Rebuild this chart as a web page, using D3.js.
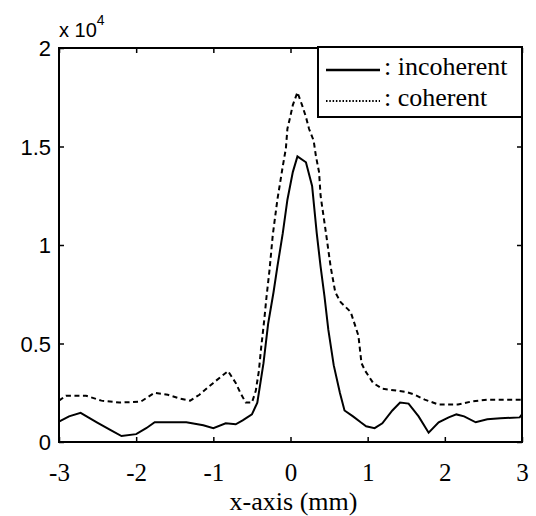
<!DOCTYPE html>
<html>
<head>
<meta charset="utf-8">
<script src="https://cdn.jsdelivr.net/npm/d3@7"></script>
<style>
  body { margin: 0; background: #fff; }
  svg { display: block; }
</style>
</head>
<body>
<svg id="chart"></svg>
<script>
// x positions (mm) and intensities
const xIncoherent = [-3.0, -2.87, -2.72, -2.51, -2.33, -2.19, -2.0, -1.87, -1.76, -1.56, -1.35, -1.13, -1.0, -0.84, -0.71, -0.62, -0.50, -0.43, -0.35, -0.29, -0.22, -0.17, -0.10, -0.04, 0.03, 0.09, 0.20, 0.28, 0.34, 0.39, 0.44, 0.49, 0.56, 0.64, 0.70, 0.81, 0.91, 0.98, 1.09, 1.19, 1.32, 1.42, 1.53, 1.66, 1.79, 1.92, 2.05, 2.15, 2.25, 2.40, 2.55, 2.72, 2.97, 3.0];
const incoherent = [1030, 1300, 1480, 1000, 600, 300, 400, 700, 1000, 1000, 1000, 850, 700, 950, 900, 1100, 1400, 2000, 4000, 6000, 7600, 8900, 10600, 12300, 13700, 14500, 14200, 13000, 10600, 8900, 7400, 5700, 3900, 2500, 1600, 1300, 1000, 800, 700, 950, 1600, 2000, 1950, 1300, 470, 1000, 1250, 1400, 1300, 1000, 1150, 1200, 1250, 1400];

const xCoherent = [-3.0, -2.91, -2.65, -2.45, -2.22, -1.94, -1.76, -1.59, -1.43, -1.30, -1.18, -1.0, -0.81, -0.71, -0.65, -0.58, -0.50, -0.45, -0.41, -0.38, -0.34, -0.31, -0.27, -0.23, -0.17, -0.10, -0.06, -0.04, -0.01, 0.03, 0.09, 0.15, 0.20, 0.24, 0.30, 0.33, 0.37, 0.39, 0.46, 0.52, 0.58, 0.65, 0.78, 0.88, 0.92, 0.97, 1.07, 1.19, 1.49, 1.61, 1.74, 1.92, 2.17, 2.34, 2.55, 3.0];
const coherent = [2100, 2350, 2350, 2100, 2000, 2050, 2500, 2400, 2200, 2100, 2400, 3000, 3600, 3000, 2500, 2000, 2000, 2600, 3600, 4800, 6200, 7400, 8800, 10500, 12300, 14000, 14900, 15900, 16400, 17100, 17750, 17100, 16500, 15900, 15300, 14500, 13700, 12500, 10600, 8900, 7600, 7100, 6600, 5400, 4000, 3600, 3000, 2700, 2550, 2400, 2150, 1900, 1900, 2050, 2150, 2150];

const xTicks = [-3, -2, -1, 0, 1, 2, 3];
const yTicks = [0, 5000, 10000, 15000, 20000];
const seriesNames = [': incoherent', ': coherent'];

const width = 536, height = 516;
const margin = {top: 48, right: 14, bottom: 74, left: 59};
const innerW = width - margin.left - margin.right;
const innerH = height - margin.top - margin.bottom;

const svg = d3.select('#chart')
  .attr('width', width)
  .attr('height', height);

svg.append('rect').attr('width', width).attr('height', height).attr('fill', '#fff');

const g = svg.append('g')
  .attr('transform', `translate(${margin.left},${margin.top})`);

const x = d3.scaleLinear().domain([-3, 3]).range([0, innerW]);
const y = d3.scaleLinear().domain([0, 20000]).range([innerH, 0]);

const serif = '"Liberation Serif", "Times New Roman", serif';
const sans = '"Liberation Sans", Arial, sans-serif';

// curves
let line = d3.line()
  .x((d) => x(d[0]))
  .y((d) => y(d[1]));

g.append('path')
  .datum(xCoherent.map((v, i) => [v, coherent[i]]))
  .attr('d', line)
  .attr('fill', 'none')
  .attr('stroke', '#000')
  .attr('stroke-width', 2)
  .attr('stroke-dasharray', '5,3.5');

g.append('path')
  .datum(xIncoherent.map((v, i) => [v, incoherent[i]]))
  .attr('d', line)
  .attr('fill', 'none')
  .attr('stroke', '#000')
  .attr('stroke-width', 2);

// axes, ticks pointing inward like matlab
let bottom = g.append('g')
  .attr('transform', `translate(0,${innerH})`)
  .call(d3.axisBottom(x).tickValues(xTicks).tickSize(-5).tickSizeOuter(0).tickFormat(d3.format('d')))
  .attr('font-family', serif)
  .attr('font-size', 25);
bottom.selectAll('text')
  .attr('dy', null)
  .attr('y', 39)
  .style('font-family', serif)
  .style('font-size', '25px')
  .text((d) => d < 0 ? '-' + Math.abs(d) : d);

let left = g.append('g')
  .call(d3.axisLeft(y).tickValues(yTicks).tickSize(-5).tickSizeOuter(0).tickFormat((d) => d / 10000))
  .attr('font-family', sans)
  .attr('font-size', 22);
left.selectAll('text')
  .attr('x', -8)
  .attr('dy', '0.36em')
  .style('font-family', sans)
  .style('font-size', '22px');

g.append('g')
  .call(d3.axisTop(x).tickValues(xTicks).tickSize(-5).tickSizeOuter(0).tickFormat(''));
g.append('g')
  .attr('transform', `translate(${innerW},0)`)
  .call(d3.axisRight(y).tickValues(yTicks).tickSize(-5).tickSizeOuter(0).tickFormat(''));

g.selectAll('.domain').remove();
g.selectAll('.tick line').attr('stroke', '#000').attr('stroke-width', 1.5);

g.append('rect')
  .attr('width', innerW)
  .attr('height', innerH)
  .attr('fill', 'none')
  .attr('stroke', '#000')
  .attr('stroke-width', 2);

// exponent label
let expo = svg.append('text')
  .attr('x', 59)
  .attr('y', 37)
  .style('font-family', sans)
  .style('font-size', '20px');
expo.append('tspan').text('x 10');
expo.append('tspan').attr('dy', -12).style('font-size', '14px').text('4');

// x label
svg.append('text')
  .attr('x', margin.left + x(0) + 3)
  .attr('y', 510)
  .attr('text-anchor', 'middle')
  .style('font-family', serif)
  .style('font-size', '26px')
  .text('x-axis (mm)');

// legend
let legend = svg.append('g').attr('transform', 'translate(318,47)');
legend.append('rect')
  .attr('width', 204)
  .attr('height', 70)
  .attr('fill', '#fff')
  .attr('stroke', '#000')
  .attr('stroke-width', 2);

let items = legend.selectAll('.legend')
  .data(seriesNames)
  .enter()
  .append('g')
  .attr('class', 'legend')
  .attr('transform', (d, i) => `translate(0,${23 + i * 31})`);
items.append('line')
  .attr('x1', 8)
  .attr('x2', 62)
  .attr('stroke', '#000')
  .attr('stroke-width', (d, i) => i ? 2 : 2.5)
  .attr('stroke-dasharray', (d, i) => i ? '1.5,1.8' : null);
items.append('text')
  .attr('x', 66)
  .attr('y', 5)
  .style('font-family', serif)
  .style('font-size', '26px')
  .text((d) => d);
</script>
</body>
</html>
